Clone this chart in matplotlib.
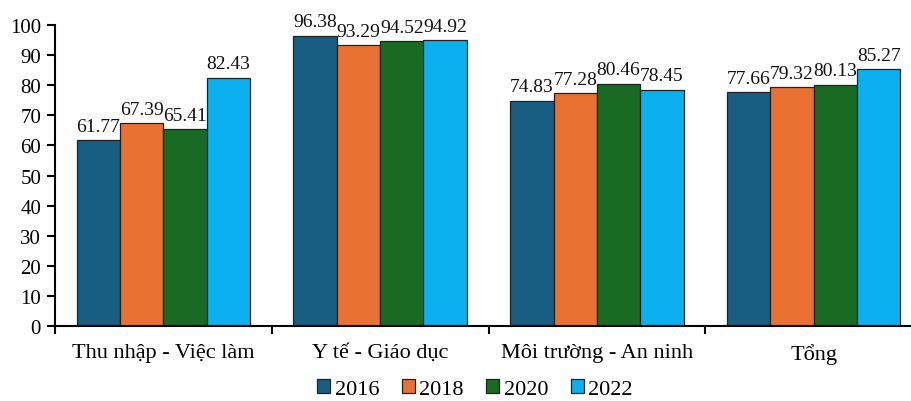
import numpy as np
import matplotlib
matplotlib.use("Agg")
import matplotlib.pyplot as plt
from matplotlib.patches import Patch

plt.rcParams["font.family"] = ["Liberation Serif", "DejaVu Serif"]

categories = ["Thu nhập - Việc làm", "Y tế - Giáo dục", "Môi trường - An ninh", "Tổng"]
years = ["2016", "2018", "2020", "2022"]
values_2016 = [61.77, 96.38, 74.83, 77.66]
values_2018 = [67.39, 93.29, 77.28, 79.32]
values_2020 = [65.41, 94.52, 80.46, 80.13]
values_2022 = [82.43, 94.92, 78.45, 85.27]
y_ticks = [0, 10, 20, 30, 40, 50, 60, 70, 80, 90, 100]

series = [values_2016, values_2018, values_2020, values_2022]
colors = ["#175E82", "#E97132", "#196B24", "#0BB0EE"]

fig = plt.figure(figsize=(9.12, 4.02), dpi=100)
# plot area runs a little past the right edge, as in the original
ax = fig.add_axes([55 / 912, 1 - 327 / 402, 867 / 912, 301 / 402])

x = np.arange(len(categories))
width = 0.2
for i, (vals, col) in enumerate(zip(series, colors)):
    pos = x + (i - 1.5) * width
    bars = ax.bar(pos, vals, width, color=col, edgecolor="#222222", linewidth=0.9)
    for b, v in zip(bars, vals):
        ax.text(b.get_x() + b.get_width() / 2, v + 1.8, f"{v:.2f}",
                ha="center", va="bottom", fontsize=14, color="#111111")

ax.set_xlim(-0.5, len(categories) - 0.5)
ax.set_ylim(0, 100)
ax.set_yticks(y_ticks)
ax.set_xticks(np.arange(len(categories) + 1) - 0.5)
ax.set_xticklabels([])
ax.set_xticks(x, minor=True)
ax.set_xticklabels(categories, minor=True, fontsize=16)
ax.tick_params(axis="x", which="minor", length=0, pad=12)
ax.tick_params(axis="x", which="major", length=6, width=1.5, direction="out")
ax.tick_params(axis="y", length=6, width=1.5, direction="out", labelsize=15, pad=4)

for side in ["top", "right"]:
    ax.spines[side].set_visible(False)
for side in ["left", "bottom"]:
    ax.spines[side].set_linewidth(1.5)

handles = [Patch(facecolor=c, edgecolor="#222222", linewidth=0.9) for c in colors]
fig.legend(handles, years, loc="center", bbox_to_anchor=(475 / 912, 1 - 390 / 402),
           ncol=4, frameon=False, fontsize=16, handlelength=0.6, handleheight=0.6,
           handletextpad=0.2, columnspacing=1.0, borderpad=0)

fig.savefig("out.png", dpi=100)
